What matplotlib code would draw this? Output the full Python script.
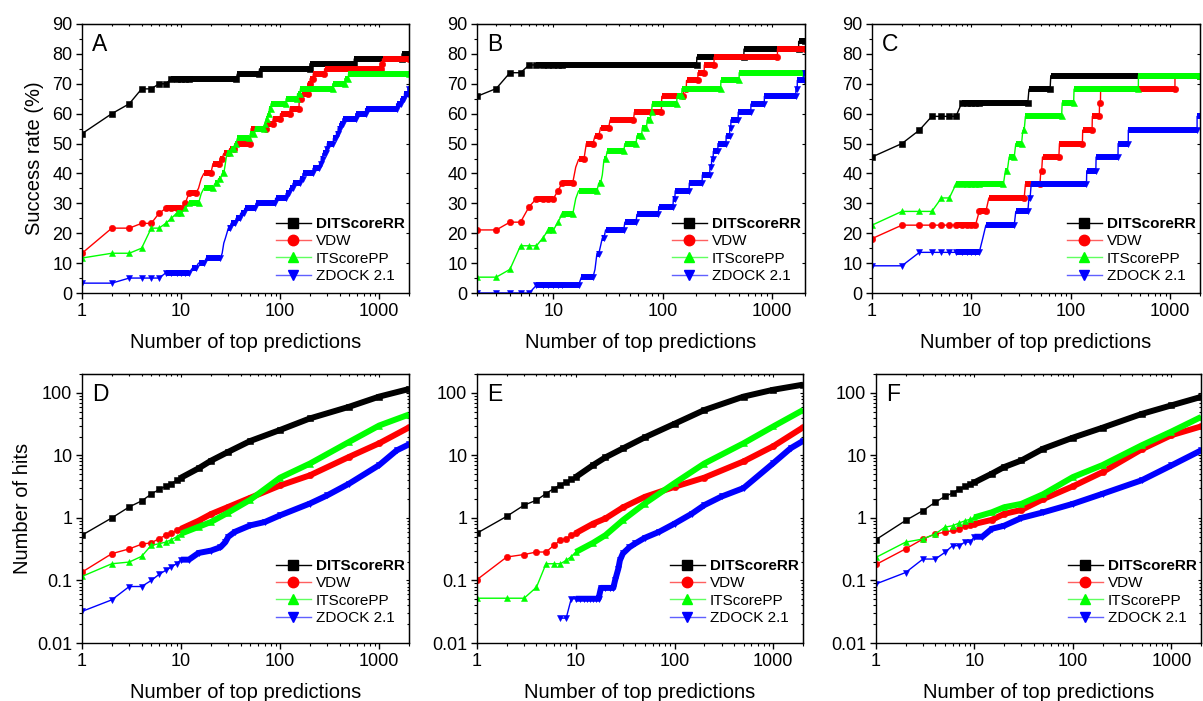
import numpy as np
import matplotlib
matplotlib.use('Agg')
import matplotlib.pyplot as plt
from matplotlib.ticker import MultipleLocator, LogLocator, FuncFormatter, NullFormatter

plt.rcParams['font.family'] = ['Liberation Sans', 'DejaVu Sans']

# ---- top row: success rate (%) as step levels: first N of each level, level value
a_dit_n = [1, 2, 3, 4, 6, 8, 37, 62, 200, 560, 1700]
a_dit_v = [53.3, 60, 63.3, 68.3, 70, 71.7, 73.3, 75, 76.7, 78.3, 80]
a_vdw_n = [1, 2, 4, 6, 7, 11, 12, 15, 16, 17, 21, 25, 27, 31, 35, 51, 73, 85, 101, 126, 156, 165,
           191, 201, 216, 281, 1041, 1081]
a_vdw_v = [13.3, 21.7, 23.3, 26.7, 28.3, 30, 33.3, 35, 38.3, 40, 43.3, 45, 46.7, 48.3, 50, 55, 56.7,
           58.3, 60, 61.7, 65, 66.7, 70, 71.7, 73.3, 75, 76.7, 78.3]
a_itp_n = [1, 2, 4, 5, 7, 8, 9, 11, 12, 16, 17, 22, 24, 26, 28, 29, 32, 35, 37, 50, 56, 70, 72, 75,
           78, 81, 115, 150, 160, 340, 450, 490]
a_itp_v = [11.7, 13.3, 15, 21.7, 23.3, 25, 26.7, 28.3, 30, 33.3, 35, 36.7, 38.3, 40, 43.3, 46.7, 48.3,
           50, 51.7, 53.3, 55, 56.7, 58.3, 60, 61.7, 63.3, 65, 66.7, 68.3, 70, 71.7, 73.3]
a_zd_n = [1, 3, 7, 13, 15, 18, 26, 27, 28, 29, 30, 32, 36, 40, 44, 57, 90, 115, 125, 135, 160, 170,
          215, 250, 260, 270, 290, 300, 345, 370, 385, 400, 430, 580, 730, 1500, 1650, 1800, 1950]
a_zd_v = [3.3, 5, 6.7, 8.3, 10, 11.7, 13.3, 16.7, 18.3, 20, 21.7, 23.3, 25, 26.7, 28.3, 30, 31.7,
          33.3, 35, 36.7, 38.3, 40, 41.7, 43.3, 45, 46.7, 48.3, 50, 51.7, 53.3, 55, 56.7, 58.3, 60,
          61.7, 63.3, 65, 66.7, 68.3]

b_dit_n = [2, 3, 4, 6, 205, 553, 1750]
b_dit_v = [65.8, 68.4, 73.7, 76.3, 78.9, 81.6, 84.2]
b_vdw_n = [2, 4, 6, 7, 11, 12, 16, 17, 20, 24, 27, 33, 55, 98, 155, 165, 210, 240, 295, 1120]
b_vdw_v = [21.1, 23.7, 28.9, 31.6, 34.2, 36.8, 42.1, 44.7, 50, 52.6, 55.3, 57.9, 60.5, 65.8, 68.4,
           71.1, 73.7, 76.3, 78.9, 81.6]
b_itp_n = [2, 4, 5, 8, 9, 11, 12, 16, 17, 26, 28, 29, 31, 45, 58, 65, 72, 78, 80, 135, 150, 340, 500]
b_itp_v = [5.3, 7.9, 15.8, 18.4, 21.1, 23.7, 26.3, 31.6, 34.2, 36.8, 39.5, 44.7, 47.4, 50, 52.6, 55.3,
           57.9, 60.5, 63.2, 65.8, 68.4, 71.1, 73.7]
b_zd_n = [2, 7, 18, 24, 25, 27, 28, 30, 45, 58, 92, 125, 130, 175, 230, 270, 280, 290, 320, 380, 410,
          420, 490, 640, 850, 1650, 1700, 1950]
b_zd_v = [0, 2.6, 5.3, 7.9, 13.2, 15.8, 18.4, 21.1, 23.7, 26.3, 28.9, 31.6, 34.2, 36.8, 39.5, 42.1,
          44.7, 47.4, 50, 52.6, 55.3, 57.9, 60.5, 63.2, 65.8, 68.4, 71.1, 73.7]

c_dit_n = [1, 2, 3, 4, 8, 38, 63]
c_dit_v = [45.5, 50, 54.5, 59.1, 63.6, 68.2, 72.7]
c_vdw_n = [1, 2, 12, 15, 35, 50, 52, 77, 132, 165, 195, 200, 1120]
c_vdw_v = [18.2, 22.7, 27.3, 31.8, 36.4, 40.9, 45.5, 50, 54.5, 59.1, 63.6, 68.2, 72.7]
c_itp_n = [1, 2, 5, 7, 22, 24, 28, 33, 35, 82, 108, 480]
c_itp_v = [22.7, 27.3, 31.8, 36.4, 40.9, 45.5, 50, 54.5, 59.1, 63.6, 68.2, 72.7]
c_zd_n = [1, 3, 13, 14, 28, 38, 40, 145, 180, 300, 380, 1870]
c_zd_v = [9.1, 13.6, 18.2, 22.7, 27.3, 31.8, 36.4, 40.9, 45.5, 50, 54.5, 59.1]

# ---- bottom row: number of hits
nn = [1, 2, 3, 4, 5, 6, 7, 8, 9, 10, 15, 20, 30, 50, 100, 200, 500, 1000, 2000]
d_dit = [0.53, 1.0, 1.5, 1.87, 2.4, 2.85, 3.2, 3.55, 4.0, 4.4, 6.2, 8.2, 11.4, 17, 25.5, 39, 60, 87, 115]
d_vdw = [0.136, 0.268, 0.32, 0.38, 0.40, 0.466, 0.53, 0.57, 0.63, 0.67, 0.9, 1.15, 1.5, 2.1, 3.3, 4.8,
         9.5, 15.6, 28]
d_itp = [0.116, 0.185, 0.197, 0.243, 0.365, 0.387, 0.41, 0.45, 0.5, 0.56, 0.72, 0.86, 1.22, 1.95, 4.4,
         7.4, 16.5, 30, 45]
d_zd_n = [1, 2, 3, 4, 5, 6, 7, 8, 9, 10, 12, 15, 20, 25, 28, 30, 35, 50, 70, 100, 200, 300, 500, 1000,
          1500, 2000]
d_zd = [0.032, 0.049, 0.08, 0.08, 0.1, 0.125, 0.145, 0.164, 0.185, 0.215, 0.215, 0.275, 0.30, 0.34,
        0.41, 0.5, 0.6, 0.76, 0.86, 1.1, 1.7, 2.3, 3.55, 7.0, 12, 15]

e_dit = [0.57, 1.06, 1.6, 1.92, 2.45, 2.95, 3.4, 3.8, 4.2, 4.5, 7.0, 9.3, 12.9, 19.4, 32, 53, 87, 112, 135]
e_vdw = [0.103, 0.237, 0.26, 0.285, 0.285, 0.365, 0.44, 0.466, 0.53, 0.57, 0.81, 0.98, 1.47, 2.17, 3.14,
         4.4, 8.0, 14, 28]
e_itp = [0.052, 0.052, 0.052, 0.078, 0.185, 0.185, 0.185, 0.21, 0.24, 0.285, 0.4, 0.53, 0.92, 1.7, 3.6,
         7.4, 15.6, 29, 53]
e_zd_n = [7, 8, 9, 10, 11, 12, 13, 14, 15, 16, 17, 18, 20, 22, 24, 25, 27, 28, 30, 35, 40, 50, 70, 100,
          150, 200, 300, 500, 1000, 1500, 2000]
e_zd = [0.025, 0.025, 0.051, 0.051, 0.051, 0.051, 0.051, 0.051, 0.051, 0.051, 0.051, 0.076, 0.076,
        0.076, 0.076, 0.1, 0.155, 0.21, 0.27, 0.34, 0.39, 0.48, 0.6, 0.81, 1.17, 1.6, 2.2, 3.0, 7.5, 13, 17]

f_dit = [0.45, 0.91, 1.31, 1.78, 2.2, 2.5, 2.9, 3.2, 3.45, 3.7, 5.1, 6.5, 8.3, 12.8, 19.2, 27.7, 46, 63, 86]
f_vdw = [0.18, 0.32, 0.46, 0.555, 0.59, 0.63, 0.667, 0.73, 0.77, 0.8, 0.93, 1.16, 1.34, 2.0, 3.2, 5.4,
         12.5, 21, 29]
f_itp = [0.234, 0.41, 0.46, 0.555, 0.71, 0.75, 0.83, 0.9, 0.95, 1.02, 1.23, 1.48, 1.68, 2.4, 4.5, 7.0,
         14.5, 24, 41]
f_zd_n = [1, 2, 3, 4, 5, 6, 7, 8, 9, 10, 12, 15, 20, 30, 50, 100, 200, 500, 1000, 2000]
f_zd = [0.088, 0.134, 0.22, 0.22, 0.28, 0.36, 0.36, 0.41, 0.41, 0.5, 0.5, 0.67, 0.75, 1.0, 1.23, 1.68,
        2.43, 4.0, 6.9, 12]

labels = ['DITScoreRR', 'VDW', 'ITScorePP', 'ZDOCK 2.1']
colors = ['#000000', '#ff0000', '#00ff00', '#0000ff']
leg_colors = ['#000000', '#ff6060', '#60ff60', '#6060ff']
markers = ['s', 'o', '^', 'v']
msizes = [4.2, 4.6, 5.0, 5.0]
NMAX = 2000
BAR = 4.3

W, H = 1203, 701
fig = plt.figure(figsize=(W / 100, H / 100), dpi=100)


def axes_px(l, t, r, b):
    return fig.add_axes([l / W, 1 - b / H, (r - l) / W, (b - t) / H])


def step_line(ax, starts, vals, k):
    xs, ys, mx, my = [], [], [], []
    for i, (s, v) in enumerate(zip(starts, vals)):
        e = starts[i + 1] - 1 if i + 1 < len(starts) else NMAX
        xs.append(s)
        ys.append(v)
        # each N of a level carries a marker; beyond ~12 they merge into a bar
        for m in range(s, min(e, 12) + 1):
            mx.append(m)
            my.append(v)
        if e > s:
            xs.append(e)
            ys.append(v)
            if e > 12:
                mx.append(e)
                my.append(v)
            if e > 7:
                ax.plot([max(s, 7), e], [v, v], color=colors[k], lw=BAR, solid_capstyle='butt')
    ax.plot(xs, ys, color=colors[k], lw=1)
    ax.plot(mx, my, ls='none', marker=markers[k], ms=msizes[k], color=colors[k],
            mec=colors[k], mew=0.4)


def smooth_line(ax, n, y, k):
    n = np.asarray(n)
    y = np.asarray(y)
    m = n >= 10
    ax.plot(n[m], y[m], color=colors[k], lw=BAR, solid_capstyle='butt', solid_joinstyle='round')
    ax.plot(n, y, color=colors[k], lw=1, marker=markers[k], ms=msizes[k], mec=colors[k], mew=0.4)


def style(ax, logy):
    ax.set_xscale('log')
    for sp in ax.spines.values():
        sp.set_linewidth(1.0)
    ax.tick_params(which='major', direction='out', length=4, width=1, labelsize=13, pad=3)
    ax.tick_params(which='minor', direction='out', length=2.2, width=0.8)
    ax.xaxis.set_major_locator(LogLocator(base=10, numticks=10))
    ax.xaxis.set_minor_locator(LogLocator(base=10, subs=np.arange(2, 10), numticks=10))
    ax.xaxis.set_major_formatter(FuncFormatter(lambda v, p: '%g' % v))
    ax.xaxis.set_minor_formatter(NullFormatter())
    if logy:
        ax.set_yscale('log')
        ax.set_ylim(0.01, 200)
        ax.yaxis.set_major_locator(LogLocator(base=10, numticks=10))
        ax.yaxis.set_minor_locator(LogLocator(base=10, subs=np.arange(2, 10), numticks=10))
        ax.yaxis.set_major_formatter(FuncFormatter(lambda v, p: '%g' % v))
        ax.yaxis.set_minor_formatter(NullFormatter())
    else:
        ax.set_ylim(0, 90)
        ax.yaxis.set_major_locator(MultipleLocator(10))
        ax.yaxis.set_minor_locator(MultipleLocator(5))
    sx = ax.secondary_xaxis('top')
    sx.tick_params(which='major', direction='in', length=2.5, width=0.8, labeltop=False)
    sx.tick_params(which='minor', direction='in', length=1.5, width=0.8)
    sx.xaxis.set_major_formatter(NullFormatter())
    sx.xaxis.set_minor_formatter(NullFormatter())
    sy = ax.secondary_yaxis('right')
    sy.tick_params(which='major', direction='in', length=2.5, width=0.8, labelright=False)
    sy.tick_params(which='minor', direction='in', length=1.5, width=0.8)
    sy.yaxis.set_major_formatter(NullFormatter())
    sy.yaxis.set_minor_formatter(NullFormatter())
    ax.set_xlabel('Number of top predictions', fontsize=14.5, labelpad=9.5)


def legend(ax, y0):
    hs = [plt.Line2D([], [], color=leg_colors[k], lw=1, marker=markers[k], ms=7.5,
                     mfc=colors[k], mec=colors[k]) for k in range(4)]
    leg = ax.legend(hs, labels, loc='lower right', bbox_to_anchor=(1.0, y0), frameon=False,
                    fontsize=11, handlelength=2.3, handletextpad=0.3, labelspacing=0.22,
                    borderpad=0, borderaxespad=0.3)
    leg.get_texts()[0].set_fontweight('bold')


top = [
    ('A', (82, 24, 409, 293), 1,
     [(a_dit_n, a_dit_v), (a_vdw_n, a_vdw_v), (a_itp_n, a_itp_v), (a_zd_n, a_zd_v)]),
    ('B', (477, 24, 805, 293), 2,
     [(b_dit_n, b_dit_v), (b_vdw_n, b_vdw_v), (b_itp_n, b_itp_v), (b_zd_n, b_zd_v)]),
    ('C', (872, 24, 1200, 293), 1,
     [(c_dit_n, c_dit_v), (c_vdw_n, c_vdw_v), (c_itp_n, c_itp_v), (c_zd_n, c_zd_v)]),
]
for letter, box, x0, series in top:
    ax = axes_px(*box)
    for k, (n, v) in enumerate(series):
        step_line(ax, n, v, k)
    style(ax, False)
    ax.set_xlim(x0, NMAX)
    ax.text(0.03, 0.965, letter, transform=ax.transAxes, fontsize=16.5, va='top', ha='left')
    legend(ax, 0.02)
    if letter == 'A':
        ax.set_ylabel('Success rate (%)', fontsize=14.5, labelpad=6)

bottom = [
    ('D', (82, 374, 409, 643),
     [(nn, d_dit), (nn, d_vdw), (nn, d_itp), (d_zd_n, d_zd)]),
    ('E', (477, 374, 803, 643),
     [(nn, e_dit), (nn, e_vdw), (nn, e_itp), (e_zd_n, e_zd)]),
    ('F', (876, 374, 1201, 643),
     [(nn, f_dit), (nn, f_vdw), (nn, f_itp), (f_zd_n, f_zd)]),
]
for letter, box, series in bottom:
    ax = axes_px(*box)
    for k, (n, y) in enumerate(series):
        smooth_line(ax, n, y, k)
    style(ax, True)
    ax.set_xlim(1, NMAX)
    ax.text(0.03, 0.965, letter, transform=ax.transAxes, fontsize=16.5, va='top', ha='left')
    legend(ax, 0.05)
    if letter == 'D':
        ax.set_ylabel('Number of hits', fontsize=14.5, labelpad=4)

fig.savefig('out.png', dpi=100)
